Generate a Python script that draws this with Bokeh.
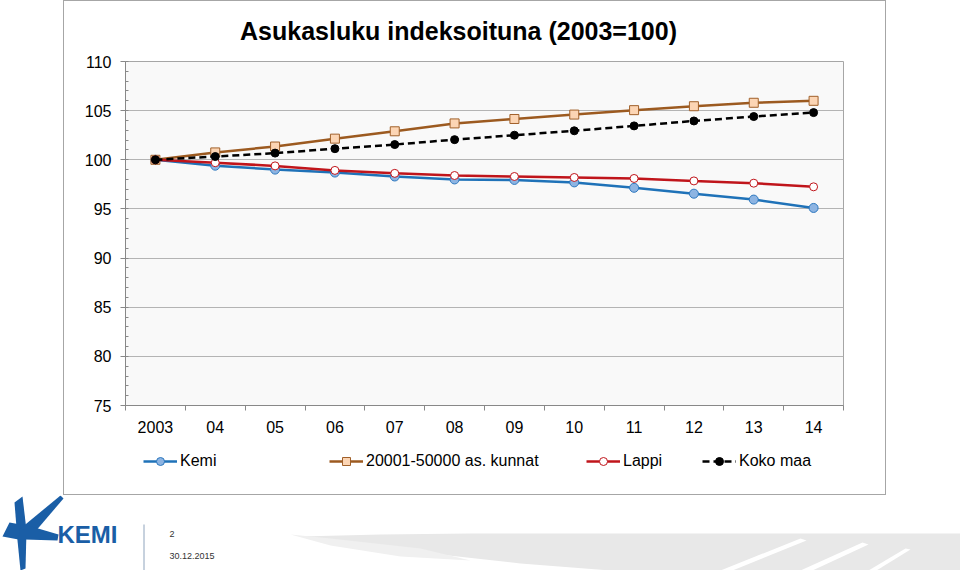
from bokeh.plotting import figure
from bokeh.layouts import row, column
from bokeh.models import FixedTicker, Legend, LegendItem, Div, Spacer, Range1d
from bokeh.core.properties import value
from bokeh.embed import file_html
from bokeh.resources import INLINE

# ---- data ----
years = ["2003", "04", "05", "06", "07", "08", "09", "10", "11", "12", "13", "14"]
kemi = [100.0, 99.4, 99.0, 98.7, 98.3, 98.0, 97.95, 97.7, 97.15, 96.55, 95.95, 95.1]
kunnat = [100.0, 100.75, 101.35, 102.15, 102.9, 103.7, 104.15, 104.6, 105.05, 105.45, 105.8, 106.0]
lappi = [100.0, 99.7, 99.38, 98.92, 98.62, 98.4, 98.3, 98.2, 98.1, 97.85, 97.62, 97.25]
koko = [100.0, 100.33, 100.68, 101.13, 101.55, 102.05, 102.5, 102.95, 103.45, 103.95, 104.4, 104.8]
y_ticks = [75, 80, 85, 90, 95, 100, 105, 110]
series_names = ["Kemi", "20001-50000 as. kunnat", "Lappi", "Koko maa"]
title_text = "Asukasluku indeksoituna (2003=100)"
footer_page = "2"
footer_date = "30.12.2015"
logo_text = "KEMI"

FONT = "Liberation Sans"
EDGE = "#a6a6a6"
NAN = float("nan")

xs = list(range(len(years)))

# series styles
styles = [
    dict(line=dict(line_color="#1f72b8", line_width=2.5),
         mark=dict(marker="circle", size=9, fill_color="#8db4e2", line_color="#2d78bf", line_width=1)),
    dict(line=dict(line_color="#9c5a20", line_width=2.5),
         mark=dict(marker="square", size=9, fill_color="#fcd5b4", line_color="#a0602a", line_width=1)),
    dict(line=dict(line_color="#c0151b", line_width=2.5),
         mark=dict(marker="circle", size=8, fill_color="white", line_color="#c0151b", line_width=1)),
    dict(line=dict(line_color="black", line_width=2.5, line_dash="7 4"),
         mark=dict(marker="circle", size=8, fill_color="black", line_color="black", line_width=1)),
]
series_vals = [kemi, kunnat, lappi, koko]


def blank(w, h, xr, yr):
    f = figure(width=w, height=h, output_backend="svg", toolbar_location=None,
               x_range=xr, y_range=yr, x_axis_type=None, y_axis_type=None,
               min_border=0, min_border_left=0, min_border_right=0, min_border_top=0,
               min_border_bottom=0, title=None)
    f.grid.visible = False
    f.outline_line_color = None
    f.background_fill_color = "white"
    f.border_fill_color = "white"
    return f


# ---------------- title strip (frame aligned with the chart frame) ----------------
tf = blank(821, 50, Range1d(125, 843), Range1d(51, 1))
tf.text(x=[458], y=[30], text=[title_text], text_font=value(FONT), text_font_size="25px",
        text_font_style="bold", text_color="black", text_align="center", text_baseline="middle")

# ---------------- chart figure ----------------
p = figure(width=821, height=391, output_backend="svg", toolbar_location=None,
           x_range=(-0.5, len(years) - 0.5), y_range=(75, 110), title=None,
           min_border_left=61, min_border_right=42, min_border_top=10, min_border_bottom=37)
p.background_fill_color = "#f9f9f9"
p.border_fill_color = "white"
p.outline_line_color = EDGE

xa = p.xaxis[0]
xa.ticker = FixedTicker(ticks=xs, minor_ticks=[i - 0.5 for i in range(len(years) + 1)])
xa.major_label_overrides = {i: y for i, y in enumerate(years)}
xa.major_tick_out = 0
xa.major_tick_in = 0
xa.minor_tick_out = 5
xa.minor_tick_in = 0
xa.minor_tick_line_color = "#888888"
xa.axis_line_color = "#888888"
xa.major_label_standoff = 10
xa.major_label_text_font = FONT
xa.major_label_text_font_size = "16px"
xa.major_label_text_color = "black"

ya = p.yaxis[0]
ya.ticker = FixedTicker(ticks=y_ticks, minor_ticks=list(range(75, 111)))
ya.major_tick_out = 5
ya.major_tick_in = 0
ya.minor_tick_in = 3
ya.minor_tick_out = 0
ya.major_tick_line_color = "#888888"
ya.minor_tick_line_color = "#888888"
ya.axis_line_color = "#888888"
ya.major_label_standoff = 9
ya.major_label_text_font = FONT
ya.major_label_text_font_size = "16px"
ya.major_label_text_color = "black"

p.xgrid.visible = False
p.ygrid.ticker = FixedTicker(ticks=y_ticks)
p.ygrid.grid_line_color = "#b4b4b4"

for vals, st in zip(series_vals, styles):
    p.line(xs, vals, **st["line"])
    p.scatter(xs, vals, **st["mark"])

# ---------------- legend strip (frame aligned with the chart frame) ----------------
lg = blank(821, 52, Range1d(0, 1), Range1d(0, 1))
leg_x = [18, 204, 461, 577]
for name, lx, st in zip(series_names, leg_x, styles):
    rl = lg.line(x=[NAN], y=[NAN], **st["line"])
    rm = lg.scatter(x=[NAN], y=[NAN], **st["mark"])
    leg = Legend(items=[LegendItem(label=name, renderers=[rl, rm])],
                 location=(lx, 23), orientation="horizontal",
                 glyph_width=34, glyph_height=20, label_height=20, label_standoff=3,
                 padding=0, margin=0, spacing=0, border_line_color=None,
                 background_fill_alpha=0, label_text_font=FONT,
                 label_text_font_size="16px", label_text_color="black")
    lg.add_layout(leg)

# ---------------- footer ----------------
ft = blank(960, 75, Range1d(0, 960), Range1d(570, 495))

# faint brush-stroke background
ft.patches([[300, 380, 470, 960, 960, 610, 520, 430, 350],
            [290, 330, 420, 470, 400, 330]],
           [[536, 534, 533, 533, 570, 570, 563, 553, 542],
            [534, 538, 548, 560, 556, 545]],
           fill_color=["#e8e8e8", "#f0f0f0"], line_color=None)
ft.patches([[720, 800, 806, 732], [800, 862, 868, 812], [868, 905, 910, 876]],
           [[570, 538, 540, 570], [570, 542, 544, 570], [570, 548, 549, 570]],
           fill_color="white", line_color=None)

logo_blue = "#1a5ea6"
ft.patches([[14, 22, 26, 25, 20, 17], [20, 60, 63, 34], [24, 58, 57, 24], [2, 9, 20, 18]],
           [[502, 496, 530, 568, 570, 540], [528, 495, 498, 532], [524, 534, 540, 539],
            [536, 522, 524, 539]],
           fill_color=logo_blue, line_color=None)
ft.text(x=[57], y=[534], text=[logo_text], text_font=value(FONT), text_font_size="24px",
        text_font_style="bold", text_color=logo_blue, text_baseline="middle")
ft.segment(x0=[143.5], y0=[524], x1=[143.5], y1=[570], line_color="#8fa4bd", line_width=1)
ft.text(x=[169], y=[533], text=[footer_page], text_font=value(FONT), text_font_size="9px",
        text_color="#333333", text_baseline="middle")
ft.text(x=[169], y=[555], text=[footer_date], text_font=value(FONT), text_font_size="9px",
        text_color="#333333", text_baseline="middle")


def edge(w, h):
    return Div(text="", width=w, height=h, margin=0,
               styles={"background-color": EDGE, "padding": "0", "margin": "0"})


inner = column(edge(821, 1), tf, p, lg, edge(821, 1), spacing=0)
top = row(Spacer(width=63, height=495, margin=0), edge(1, 495), inner, edge(1, 495),
          Spacer(width=74, height=495, margin=0), spacing=0)
page = column(top, ft, spacing=0)

open("out.html", "w").write(file_html(page, INLINE))
